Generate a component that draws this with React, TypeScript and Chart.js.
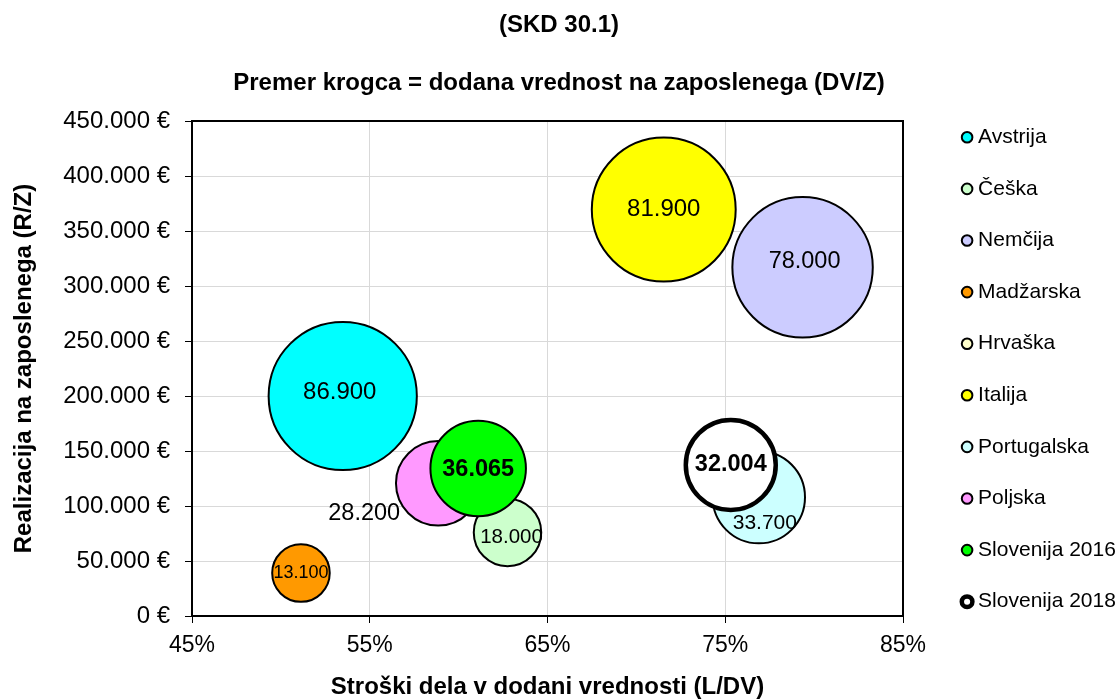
import React, { useEffect, useRef } from 'react';
import { Chart, registerables } from 'chart.js';

Chart.register(...registerables);

// ---------- data ----------
const countries = [
  'Avstrija',
  'Češka',
  'Nemčija',
  'Madžarska',
  'Hrvaška',
  'Italija',
  'Portugalska',
  'Poljska',
  'Slovenija 2016',
  'Slovenija 2018',
];
// Stroški dela v dodani vrednosti (L/DV), %
const laborShare: (number | null)[] = [53.48, 62.75, 79.35, 51.13, null, 71.54, 76.89, 58.85, 61.1, 75.31];
// Realizacija na zaposlenega (R/Z), €
const revenuePerEmployee: (number | null)[] = [200000, 76000, 317000, 39000, null, 369500, 108000, 120600, 134100, 137300];
// Dodana vrednost na zaposlenega (DV/Z), €  -> bubble diameter
const valueAddedPerEmployee: (number | null)[] = [86900, 18000, 78000, 13100, null, 81900, 33700, 28200, 36065, 32004];

const xMin = 45;
const xMax = 85;
const xStep = 10;
const yMin = 0;
const yMax = 450000;
const yStep = 50000;

const titleText = '(SKD 30.1)';
const subtitleText = 'Premer krogca = dodana vrednost na zaposlenega (DV/Z)';
const xTitle = 'Stroški dela v dodani vrednosti (L/DV)';
const yTitle = 'Realizacija na zaposlenega (R/Z)';

// ---------- styles ----------
const fillColors = ['#00FFFF', '#CCFFCC', '#CCCCFF', '#FF9900', '#FFFFCC', '#FFFF00', '#CCFFFF', '#FF99FF', '#00FF00', '#FFFFFF'];
const borderWidths = [2, 2, 2, 2, 2, 2, 2, 2, 2, 4.5];
const labelOffsets: [number, number][] = [[-3, -4], [4, 5], [2, -6], [0, 0], [0, 0], [0, 0], [6, 26], [-74, 30], [0, 1], [0, 0]];
const labelSizes = [24, 20.5, 23.5, 18, 24, 24, 21, 23.5, 23.5, 23.5];
const labelBold = [false, false, false, false, false, false, false, false, true, true];
const BUBBLE_SCALE = 7.95; // px per sqrt(thousand €)

const FONT = '"Liberation Sans", Arial, Helvetica, sans-serif';

function formatThousands(n: number): string {
  const s = String(Math.round(Math.abs(n))).replace(/\B(?=(\d{3})+(?!\d))/g, '.');
  return (n < 0 ? '-' : '') + s;
}

export default function App() {
  const canvasRef = useRef<HTMLCanvasElement>(null);

  useEffect(() => {
    if (!canvasRef.current) return;

    const datasets = countries.map((name, i) => {
      const x = laborShare[i];
      const y = revenuePerEmployee[i];
      const v = valueAddedPerEmployee[i];
      return {
        label: name,
        data: x == null || y == null || v == null ? [] : [{ x, y, r: BUBBLE_SCALE * Math.sqrt(v / 1000) }],
        backgroundColor: fillColors[i],
        borderColor: '#000000',
        borderWidth: borderWidths[i],
        hoverBorderWidth: borderWidths[i],
        pointStyle: 'circle',
        order: countries.length - i,
        clip: false as const,
      };
    });

    const framePlugin = {
      id: 'frame',
      beforeDatasetsDraw(chart: any) {
        const { ctx, chartArea } = chart;
        ctx.save();
        ctx.strokeStyle = '#000';
        ctx.lineWidth = 2;
        ctx.strokeRect(chartArea.left, chartArea.top, chartArea.right - chartArea.left, chartArea.bottom - chartArea.top);
        ctx.restore();
      },
    };

    const labelPlugin = {
      id: 'bubbleLabels',
      afterDatasetsDraw(chart: any) {
        const ctx = chart.ctx;
        ctx.save();
        ctx.fillStyle = '#000';
        ctx.textAlign = 'center';
        ctx.textBaseline = 'middle';
        chart.data.datasets.forEach((_ds: any, i: number) => {
          const meta = chart.getDatasetMeta(i);
          const el = meta.data[0];
          const v = valueAddedPerEmployee[i];
          if (!el || v == null) return;
          ctx.font = `${labelBold[i] ? 'bold ' : ''}${labelSizes[i]}px ${FONT}`;
          ctx.fillText(formatThousands(v), el.x + labelOffsets[i][0], el.y + labelOffsets[i][1]);
        });
        ctx.restore();
      },
    };

    const chart = new Chart(canvasRef.current, {
      type: 'bubble',
      data: { datasets: datasets as any },
      plugins: [framePlugin, labelPlugin],
      options: {
        responsive: true,
        maintainAspectRatio: false,
        animation: false,
        events: [],
        layout: { padding: 0 },
        plugins: {
          title: {
            display: true,
            text: titleText,
            color: '#000',
            font: { family: FONT, size: 24, weight: 'bold', lineHeight: 1.2 },
            padding: { top: 10.6, bottom: 0 },
          },
          subtitle: {
            display: true,
            text: subtitleText,
            color: '#000',
            font: { family: FONT, size: 24, weight: 'bold', lineHeight: 1.2 },
            padding: { top: 29.2, bottom: 23.6 },
          },
          legend: {
            position: 'right',
            align: 'center',
            maxWidth: 182,
            title: { display: true, text: ' ', font: { size: 20, lineHeight: 1 }, padding: 10 },
            labels: {
              usePointStyle: true,
              pointStyle: 'circle',
              boxWidth: 1,
              boxHeight: 7.5,
              padding: 30.6,
              color: '#000',
              font: { family: FONT, size: 21 },
              sort: (a: any, b: any) => a.datasetIndex - b.datasetIndex,
            },
          },
          tooltip: { enabled: false },
        },
        scales: {
          x: {
            type: 'linear',
            min: xMin,
            max: xMax,
            ticks: {
              stepSize: xStep,
              padding: 9,
              color: '#000',
              font: { family: FONT, size: 23 },
              callback: (v: any) => `${v}%`,
            },
            grid: { color: '#d9d9d9', tickColor: '#000', tickLength: 7, lineWidth: 1 },
            border: { color: '#000', width: 2 },
            title: {
              display: true,
              text: xTitle,
              color: '#000',
              font: { family: FONT, size: 24, weight: 'bold', lineHeight: 1 },
              padding: { top: 6.4, bottom: 0 },
            },
          },
          y: {
            type: 'linear',
            min: yMin,
            max: yMax,
            ticks: {
              stepSize: yStep,
              padding: 15,
              color: '#000',
              font: { family: FONT, size: 24 },
              callback: (v: any) => `${formatThousands(Number(v))} €`,
            },
            grid: { color: '#d9d9d9', tickColor: '#000', tickLength: 7, lineWidth: 1 },
            border: { color: '#000', width: 2 },
            title: {
              display: true,
              text: yTitle,
              color: '#000',
              font: { family: FONT, size: 24, weight: 'bold', lineHeight: 1 },
              padding: { top: 12, bottom: 0 },
            },
            afterFit: (s: any) => {
              s.width = 192;
            },
          },
          y2: {
            type: 'linear',
            position: 'right',
            display: true,
            grid: { display: false, drawTicks: false },
            border: { display: false },
            ticks: { display: false },
            afterFit: (s: any) => {
              s.width = 33;
            },
          },
        },
      } as any,
    });

    return () => chart.destroy();
  }, []);

  return (
    <div style={{ position: 'fixed', left: 0, top: 0, width: 1118, height: 699, background: '#fff' }}>
      <canvas ref={canvasRef} />
    </div>
  );
}
